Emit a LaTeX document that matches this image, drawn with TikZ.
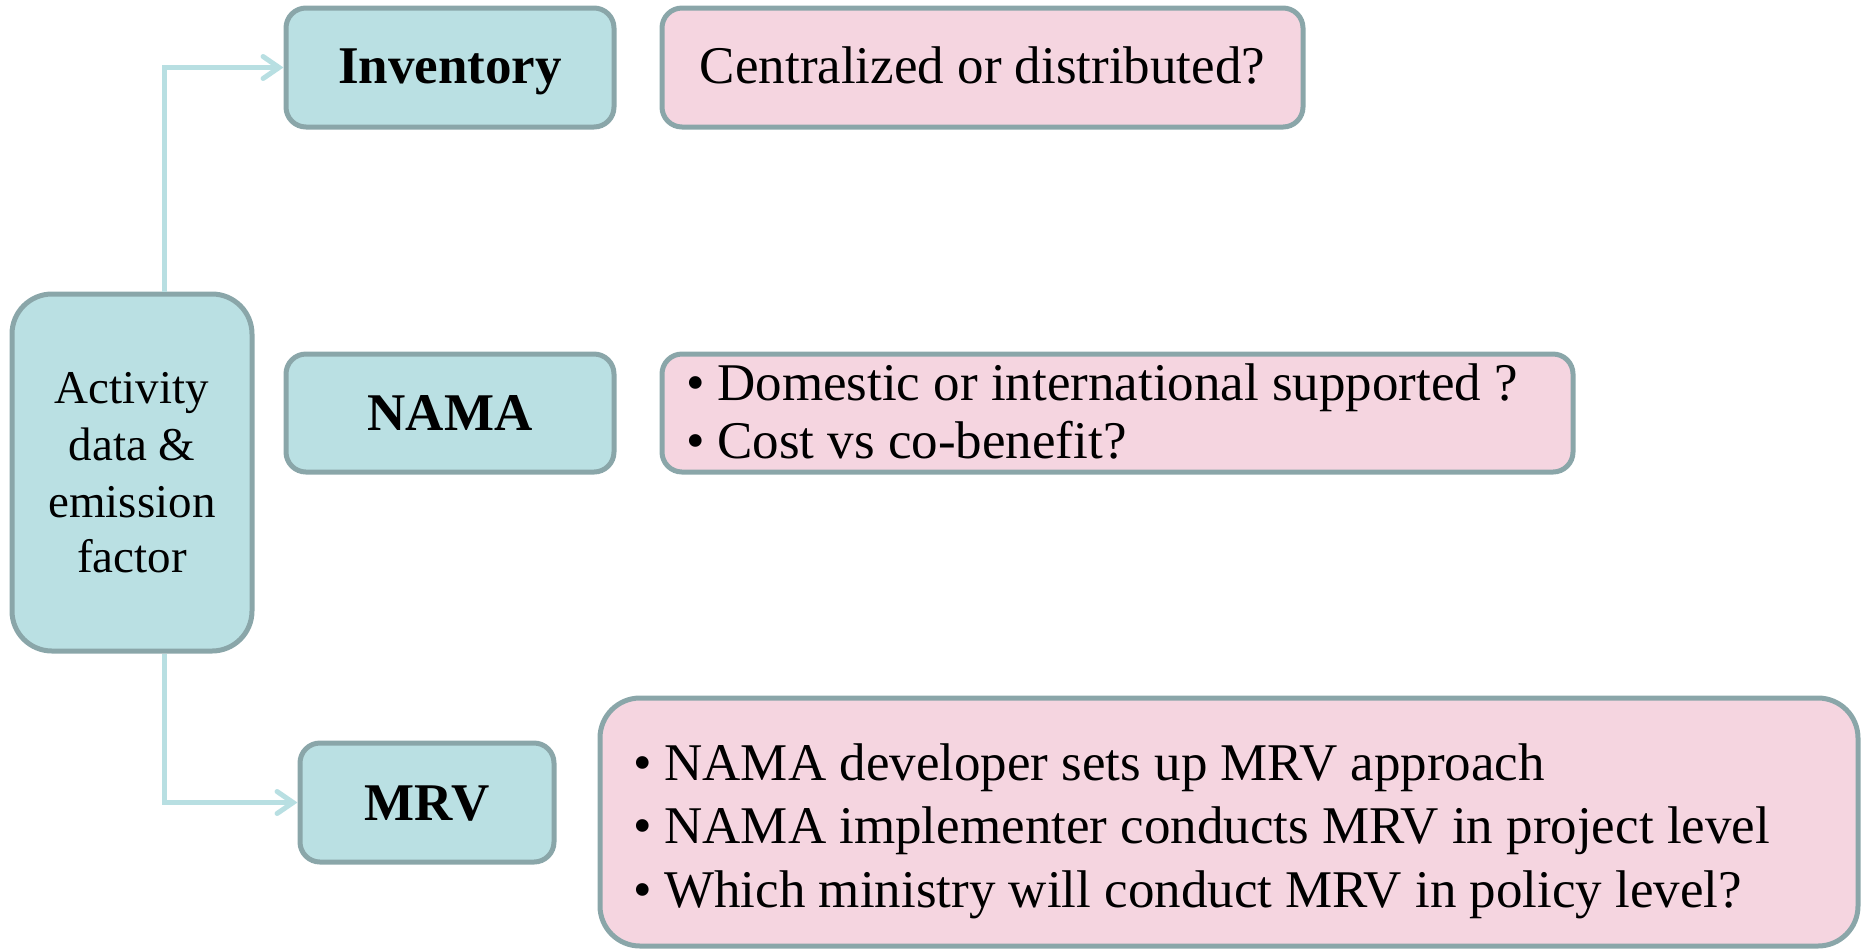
\documentclass[tikz,border=0pt]{standalone}
\usepackage{fontspec}
\setmainfont{Liberation Serif}
\usetikzlibrary{arrows.meta}
\definecolor{tealfill}{RGB}{186,224,227}
\definecolor{boxline}{RGB}{138,166,169}
\definecolor{pinkfill}{RGB}{245,213,224}
\definecolor{arrowcol}{RGB}{184,223,226}
\newcommand{\bulletrow}[1]{\makebox[15.5pt][l]{\textbullet}#1}
\tikzset{
  tealbox/.style={draw=boxline, fill=tealfill, line width=2.5pt, rounded corners=10pt, inner sep=0pt},
  pinkbox/.style={draw=boxline, fill=pinkfill, line width=2.5pt, rounded corners=10pt, inner sep=0pt},
  bigtxt/.style={font=\fontsize{26.5}{32}\selectfont, inner sep=0pt},
  boldtxt/.style={font=\fontsize{26.5}{32}\selectfont\bfseries, inner sep=0pt},
  smalltxt/.style={font=\fontsize{23.5}{28}\selectfont, inner sep=0pt, anchor=base},
  linetxt/.style={font=\fontsize{26.5}{32}\selectfont, inner sep=0pt, anchor=base west},
  conn/.style={draw=arrowcol, line width=2.5pt, line join=miter,
    -{Straight Barb[length=8pt,width=11pt,line cap=round]}}
}
\begin{document}
\begin{tikzpicture}[x=0.5pt,y=-0.5pt]
\useasboundingbox (0,0) rectangle (1864,950);
% left box
\node[tealbox, rounded corners=20pt, minimum width=120pt, minimum height=178.5pt] (act) at (132,472.5) {};
\node[smalltxt] (act1) at (132,403) {Activity};
\node[smalltxt] (act2) at (132,460) {data \&};
\node[smalltxt] (act3) at (132,517) {emission};
\node[smalltxt] (act4) at (132,572) {factor};
% teal boxes
\node[tealbox, minimum width=164pt, minimum height=59.5pt] (inv) at (450,67.5) {};
\node[boldtxt, anchor=base] (invt) at (450,83) {Inventory};
\node[tealbox, minimum width=164pt, minimum height=59pt] (nama) at (450,413) {};
\node[boldtxt, anchor=base] (namat) at (450,430) {NAMA};
\node[tealbox, minimum width=127pt, minimum height=59.5pt] (mrv) at (427,802.5) {};
\node[boldtxt, anchor=base] (mrvt) at (427,820) {MRV};
% pink boxes
\node[pinkbox, minimum width=320.5pt, minimum height=59.5pt] (p1) at (982.5,67.5) {};
\node[bigtxt, anchor=base] (p1t) at (982.5,83) {Centralized or distributed?};
\node[pinkbox, minimum width=455.5pt, minimum height=59pt] (p2) at (1117.5,413) {};
\node[linetxt] (p2a) at (686,400) {\bulletrow{Domestic or international supported ?}};
\node[linetxt] (p2b) at (686,458) {\bulletrow{Cost vs co-benefit?}};
\node[pinkbox, rounded corners=20pt, minimum width=629pt, minimum height=124pt] (p3) at (1229,822) {};
\node[linetxt] (p3a) at (633,780) {\bulletrow{NAMA developer sets up MRV approach}};
\node[linetxt] (p3b) at (633,843) {\bulletrow{NAMA implementer conducts MRV in project level}};
\node[linetxt] (p3c) at (633,907) {\bulletrow{Which ministry will conduct MRV in policy level?}};
% connectors
\draw[conn] ([xshift=16pt]act.north) |- (inv.west);
\draw[conn] ([xshift=16pt]act.south) |- (mrv.west);
\end{tikzpicture}
\end{document}
